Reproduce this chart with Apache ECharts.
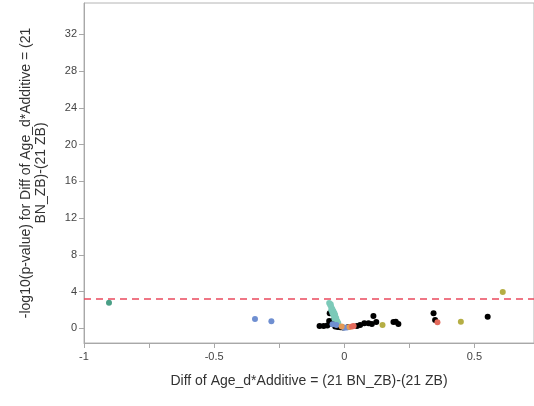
<!DOCTYPE html>
<html>
<head>
<meta charset="utf-8">
<script src="https://cdn.jsdelivr.net/npm/echarts@6/dist/echarts.min.js"></script>
<style>
  html, body { margin: 0; padding: 0; background: #fff; }
  #chart { width: 534px; height: 406px; }
</style>
</head>
<body>
<div id="chart"></div>
<script>
// Difference estimates (x) and -log10(p-value) (y), grouped by marker colour
const tealOutlier = [[-0.904, 2.79]];
const tealPoints = [
  [-0.058, 2.75], [-0.054, 2.53], [-0.052, 2.62], [-0.050, 2.32], [-0.046, 2.10],
  [-0.050, 2.00], [-0.042, 1.88], [-0.046, 1.70], [-0.038, 1.66], [-0.042, 1.45],
  [-0.035, 1.45], [-0.031, 1.12], [-0.038, 1.05], [-0.027, 0.79], [-0.023, 0.58]
];
const bluePoints = [
  [-0.343, 1.01], [-0.280, 0.76], [-0.030, 0.35], [-0.045, 0.45], [0.000, 0.07], [0.010, 0.10]
];
const blackPoints = [
  [-0.095, 0.25], [-0.079, 0.25], [-0.065, 0.30], [-0.056, 1.63], [-0.058, 0.80],
  [-0.048, 0.50], [-0.040, 0.90], [-0.035, 0.20], [-0.025, 0.15], [-0.015, 0.12],
  [-0.005, 0.10], [0.015, 0.15], [0.049, 0.25], [0.061, 0.36], [0.077, 0.54],
  [0.093, 0.54], [0.106, 0.47], [0.112, 1.34], [0.123, 0.69], [0.189, 0.69],
  [0.208, 0.47], [0.198, 0.72], [0.343, 1.63], [0.349, 0.90], [0.551, 1.26]
];
const orangePoints = [[-0.010, 0.20], [0.020, 0.15]];
const redPoints = [[0.030, 0.20], [0.036, 0.25], [0.358, 0.65]];
const olivePoints = [[0.609, 3.95], [0.448, 0.72], [0.147, 0.36]];

// Significance threshold on the -log10(p) scale
const threshold = 3.26;

const xTickLabels = [-1, -0.5, 0, 0.5];
const xTickMarks = [-1, -0.75, -0.5, -0.25, 0, 0.25, 0.5];
const yTickLabels = [0, 4, 8, 12, 16, 20, 24, 28, 32];

const xTitle = 'Diff of Age_d*Additive = (21 BN_ZB)-(21 ZB)';
const yTitle = '-log10(p-value) for Diff of Age_d*Additive = (21\nBN_ZB)-(21 ZB)';

const font = 'Arial, "Liberation Sans", sans-serif';

function scatter(data, color) {
  return {
    type: 'scatter',
    data: data,
    symbolSize: 6,
    itemStyle: { color: color, opacity: 1 },
    silent: true,
    animation: false
  };
}

const series = [
  scatter(blackPoints, '#000000'),
  scatter(tealPoints, '#7ccab9'),
  scatter(bluePoints, '#6f8fd1'),
  scatter(orangePoints, '#e39a55'),
  scatter(redPoints, '#e46a5c'),
  scatter(olivePoints, '#b5ae44'),
  scatter(tealOutlier, '#4a9f86')
];
series[0].markLine = {
  silent: true,
  symbol: 'none',
  label: { show: false },
  lineStyle: { color: '#ea4a5e', type: [7, 5], width: 1.5 },
  data: [{ yAxis: threshold }],
  animation: false
};

const chart = echarts.init(document.getElementById('chart'));
chart.setOption({
  animation: false,
  grid: {
    left: 84, top: 3, right: 0, bottom: 63,
    show: true, borderColor: '#b4b4b4', borderWidth: 1, backgroundColor: 'transparent'
  },
  xAxis: {
    type: 'value',
    min: -1, max: 0.729,
    name: xTitle,
    nameLocation: 'middle',
    nameGap: 31,
    nameTextStyle: { fontFamily: font, fontSize: 14, color: '#333' },
    axisLine: { show: true, onZero: false, lineStyle: { color: '#a8a8a8' } },
    axisTick: { show: true, customValues: xTickMarks, length: 5, lineStyle: { color: '#a8a8a8' } },
    axisLabel: {
      customValues: xTickLabels, margin: 8,
      fontFamily: font, fontSize: 11, color: '#444',
      formatter: v => String(v)
    },
    splitLine: { show: false }
  },
  yAxis: {
    type: 'value',
    min: -1.6, max: 35.4,
    name: yTitle,
    nameLocation: 'middle',
    nameGap: 35,
    nameRotate: 90,
    nameTextStyle: { fontFamily: font, fontSize: 14, color: '#333', lineHeight: 15, align: 'center' },
    axisLine: { show: true, onZero: false, lineStyle: { color: '#a8a8a8' } },
    axisTick: { show: true, customValues: yTickLabels, length: 5, lineStyle: { color: '#a8a8a8' } },
    axisLabel: {
      customValues: yTickLabels, margin: 7,
      fontFamily: font, fontSize: 11, color: '#444'
    },
    splitLine: { show: false }
  },
  series: series
});
</script>
</body>
</html>
